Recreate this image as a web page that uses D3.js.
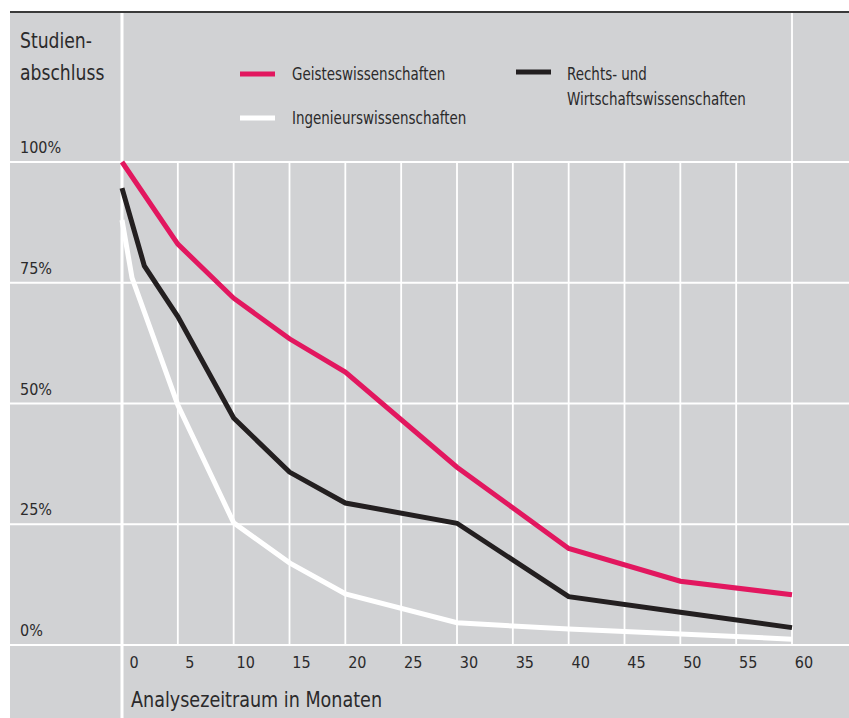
<!DOCTYPE html>
<html>
<head>
<meta charset="utf-8">
<script src="https://cdn.jsdelivr.net/npm/d3@7"></script>
<style>
  html, body { margin: 0; padding: 0; background: #ffffff; }
  svg { display: block; }
  text { font-family: "DejaVu Sans Condensed", "Liberation Sans Narrow", "Open Sans", sans-serif; fill: #2b2a2b; }
</style>
</head>
<body>
<svg id="chart" width="849" height="718"></svg>
<script>
// ---- data ----
const seriesNames = ["Geisteswissenschaften", "Rechts- und Wirtschaftswissenschaften", "Ingenieurswissenschaften"];
const geistesMonths = [0, 5, 10, 15, 20, 30, 40, 50, 60];
const geistesValues = [100, 83, 71.8, 63.4, 56.5, 36.8, 20, 13.2, 10.4];
const rechtsMonths = [0, 2, 5, 10, 15, 20, 30, 40, 50, 60];
const rechtsValues = [94.6, 78.5, 68, 47, 35.8, 29.4, 25.2, 10, 6.8, 3.6];
const ingMonths = [0, 0.9, 5, 10, 15, 20, 30, 40, 50, 60];
const ingValues = [88, 76, 49.7, 25.3, 17, 10.6, 4.6, 3.3, 2.3, 1.2];
const xTicks = [0, 5, 10, 15, 20, 25, 30, 35, 40, 45, 50, 55, 60];
const yTicks = [0, 25, 50, 75, 100];
const yTickLabels = ["0%", "25%", "50%", "75%", "100%"];
const colors = ["#e2175f", "#231f20", "#ffffff"];

const svg = d3.select("#chart");
const W = 849, H = 718;
const bgLeft = 10, bgTop = 12;

const x = d3.scaleLinear().domain([0, 60]).range([122, 792]);
const y = d3.scaleLinear().domain([0, 100]).range([645, 162]);

function squeeze(sel, f) {
  sel.each(function () {
    const len = this.getComputedTextLength();
    d3.select(this).attr("textLength", len * f).attr("lengthAdjust", "spacingAndGlyphs");
  });
}

// background
svg.append("rect").attr("x", bgLeft).attr("y", bgTop).attr("width", W - bgLeft).attr("height", H - bgTop).attr("fill", "#d1d2d4");
svg.append("line").attr("x1", bgLeft).attr("x2", W).attr("y1", bgTop).attr("y2", bgTop)
  .attr("stroke", "#3a3a3a").attr("stroke-width", 2);

// horizontal gridlines
svg.append("g").selectAll("line").data(yTicks).join("line")
  .attr("x1", bgLeft).attr("x2", W)
  .attr("y1", d => y(d)).attr("y2", d => y(d))
  .attr("stroke", "#ffffff").attr("stroke-width", 2.2);

// vertical gridlines
svg.append("g").selectAll("line").data(xTicks.filter(d => d > 0 && d < 60)).join("line")
  .attr("x1", d => x(d)).attr("x2", d => x(d))
  .attr("y1", y(100)).attr("y2", y(0))
  .attr("stroke", "#ffffff").attr("stroke-width", 1.8);
// right line (60)
svg.append("line").attr("x1", x(60)).attr("x2", x(60)).attr("y1", bgTop + 1).attr("y2", y(0))
  .attr("stroke", "#ffffff").attr("stroke-width", 1.8);
// axis line (0)
svg.append("line").attr("x1", x(0)).attr("x2", x(0)).attr("y1", bgTop + 1).attr("y2", H)
  .attr("stroke", "#ffffff").attr("stroke-width", 3);

// y tick labels
svg.append("g").selectAll("text").data(yTicks).join("text")
  .attr("x", 20).attr("y", d => y(d) - 9)
  .attr("font-size", 16)
  .text((d, i) => yTickLabels[i]);

// x tick labels
svg.append("g").selectAll("text").data(xTicks).join("text")
  .attr("x", d => x(d) + 12).attr("y", 668)
  .attr("text-anchor", "middle")
  .attr("font-size", 16)
  .text(d => d);

// titles
const yt = svg.append("text").attr("x", 20).attr("font-size", 21);
yt.append("tspan").attr("x", 20).attr("y", 48).text("Studien-");
yt.append("tspan").attr("x", 20).attr("y", 80).text("abschluss");
squeeze(yt.selectAll("tspan"), 0.91);
const xt = svg.append("text").attr("x", 131).attr("y", 707).attr("font-size", 21).text("Analysezeitraum in Monaten");
squeeze(xt, 0.93);

// lines
const line = d3.line().x(d => x(d[0])).y(d => y(d[1]));
const data = [
  d3.zip(geistesMonths, geistesValues),
  d3.zip(rechtsMonths, rechtsValues),
  d3.zip(ingMonths, ingValues)
];
const order = [2, 1, 0];
svg.append("g").selectAll("path").data(order).join("path")
  .attr("d", i => line(data[i]))
  .attr("fill", "none")
  .attr("stroke", i => colors[i])
  .attr("stroke-width", 5)
  .attr("stroke-linejoin", "miter");

// legend
const leg = svg.append("g");
const legItems = [
  { i: 0, lx: 240, ly: 74, tx: 292, lines: ["Geisteswissenschaften"], ty: 80 },
  { i: 2, lx: 240, ly: 118, tx: 292, lines: ["Ingenieurswissenschaften"], ty: 124 },
  { i: 1, lx: 516, ly: 72, tx: 567, lines: ["Rechts- und", "Wirtschaftswissenschaften"], ty: 80 }
];
legItems.forEach(it => {
  leg.append("line").attr("x1", it.lx).attr("x2", it.lx + 35).attr("y1", it.ly).attr("y2", it.ly)
    .attr("stroke", colors[it.i]).attr("stroke-width", 5);
  const t = leg.append("text").attr("font-size", 17);
  it.lines.forEach((s, k) => t.append("tspan").attr("x", it.tx).attr("y", it.ty + k * 25).text(s));
  squeeze(t.selectAll("tspan"), 0.88);
});
</script>
</body>
</html>
